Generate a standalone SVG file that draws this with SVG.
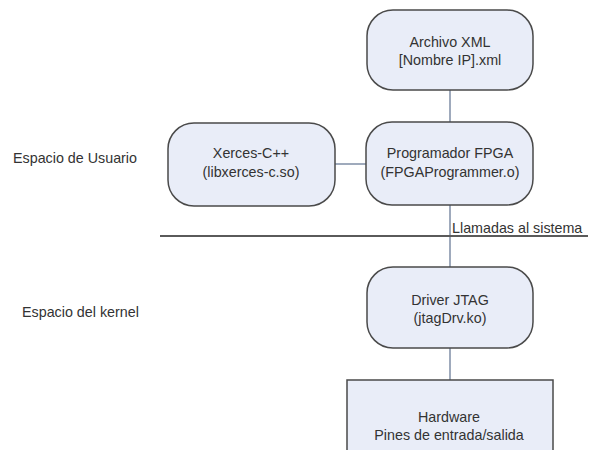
<svg xmlns="http://www.w3.org/2000/svg" width="590" height="450" viewBox="0 0 590 450">
<style>
.box{fill:#e9edf8;stroke:#4a4a4a;stroke-width:1.5}
.conn{stroke:#7f8ea6;stroke-width:1.5;fill:none}
.sep{stroke:#5a5a5a;stroke-width:2}
text{font-family:"Liberation Sans",Arial,sans-serif;font-size:14.3px;fill:#333;text-anchor:middle}
.lbl{text-anchor:start}
</style>
<rect width="590" height="450" fill="#fff"/>
<g id="connectors">
<line class="conn" x1="450" y1="90" x2="450" y2="122"/>
<line class="conn" x1="335" y1="164" x2="366" y2="164"/>
<line class="conn" x1="450" y1="205" x2="450" y2="267"/>
<line class="conn" x1="450" y1="348" x2="450" y2="380"/>
</g>
<g id="separator">
<line class="sep" x1="160" y1="236" x2="588" y2="236"/>
<text class="lbl" x="452" y="233">Llamadas al sistema</text>
</g>
<g id="label-usuario"><text class="lbl" x="13" y="163">Espacio de Usuario</text></g>
<g id="label-kernel"><text class="lbl" x="22" y="317">Espacio del kernel</text></g>
<g id="archivo">
<rect class="box" x="367" y="10" width="166" height="80" rx="26"/>
<text x="450" y="47">Archivo XML</text>
<text x="450" y="65">[Nombre IP].xml</text>
</g>
<g id="xerces">
<rect class="box" x="168" y="123" width="167" height="83" rx="26"/>
<text x="251" y="158">Xerces-C++</text>
<text x="251" y="177">(libxerces-c.so)</text>
</g>
<g id="programador">
<rect class="box" x="366" y="122" width="167" height="83" rx="26"/>
<text x="450" y="158">Programador FPGA</text>
<text x="450" y="177">(FPGAProgrammer.o)</text>
</g>
<g id="driver">
<rect class="box" x="367" y="267" width="166" height="81" rx="26"/>
<text x="450" y="305">Driver JTAG</text>
<text x="450" y="323">(jtagDrv.ko)</text>
</g>
<g id="hardware">
<rect class="box" x="347" y="380" width="206" height="80" rx="0"/>
<text x="449" y="422">Hardware</text>
<text x="449" y="440">Pines de entrada/salida</text>
</g>
</svg>
